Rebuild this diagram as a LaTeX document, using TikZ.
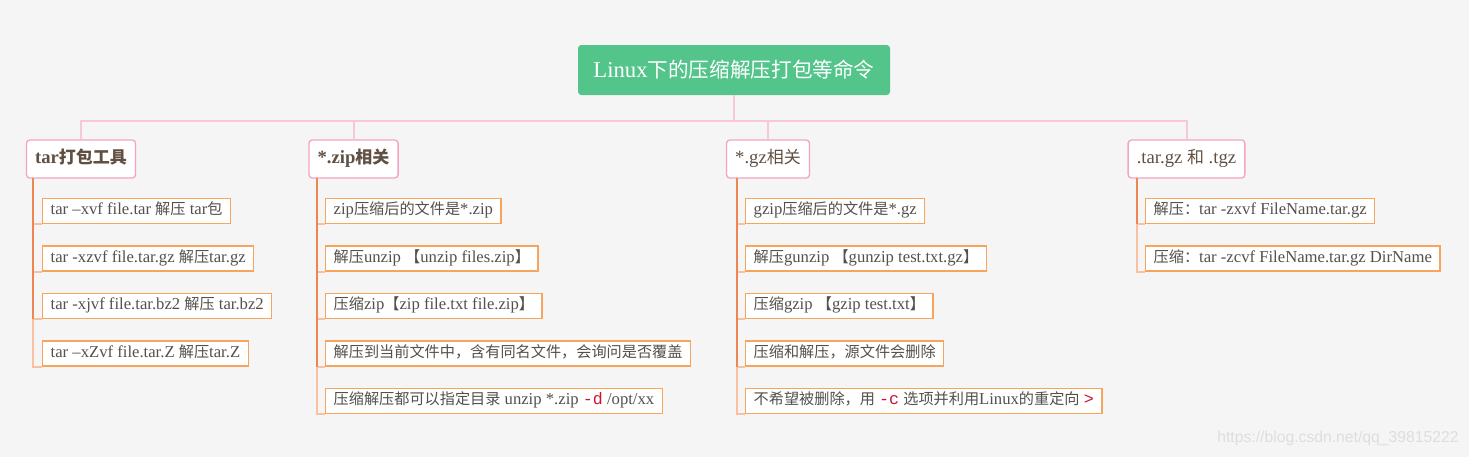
\documentclass[tikz,border=0pt]{standalone}
\usepackage{fontspec}
\setmainfont{Liberation Serif}
\setsansfont{Liberation Sans}
\setmonofont{Liberation Mono}
\newfontfamily\zhfont{Noto Sans CJK SC}[Scale = 0.91]
\newcommand{\zh}[1]{{\zhfont #1}}
\newcommand{\redcode}[1]{\textcolor{codered}{\texttt{#1}}}

\definecolor{bgcolor}{RGB}{245,245,245}
\definecolor{rootgreen}{RGB}{83,196,138}
\definecolor{pinkline}{RGB}{249,200,214}
\definecolor{pinkedge}{RGB}{244,164,192}
\definecolor{orangeline}{RGB}{238,134,84}
\definecolor{peachline}{RGB}{248,194,162}
\definecolor{leafedge}{RGB}{247,164,92}
\definecolor{topictext}{RGB}{96,80,66}
\definecolor{leaftext}{RGB}{84,80,76}
\definecolor{codered}{RGB}{204,20,50}
\definecolor{marktext}{RGB}{222,222,222}

\begin{document}
\begin{tikzpicture}[x = 0.75pt, y = -0.75pt,
		rootbox/.style = {fill = rootgreen, rounded corners = 2.5pt, minimum width = 234pt, minimum height = 37.5pt, text = white, font = \fontsize{17pt}{20pt}\selectfont},
		topicbox/.style = {draw = pinkedge, fill = white, line width = 1pt, rounded corners = 2.5pt, minimum height = 28.5pt, inner xsep = 6.5pt, text height = 10pt, text depth = 3pt, text = topictext, font = \fontsize{14pt}{16pt}\selectfont},
		topicbold/.style = {topicbox, font = \fontsize{14pt}{16pt}\selectfont\bfseries},
		leafbox/.style = {draw = leafedge, fill = white, line width = 1pt, anchor = south west, minimum height = 18.75pt, inner xsep = 6pt, inner ysep = 0pt, text height = 9pt, text depth = 3pt, text = leaftext, font = \fontsize{12.5pt}{14pt}\selectfont},
		pinklink/.style = {draw = pinkline, line width = 1.5pt},
		trunklink/.style = {draw = orangeline, line width = 1.5pt},
		leaflink/.style = {draw = peachline, line width = 1.5pt}]
	\fill[bgcolor] (0, 0) rectangle (1469, 457);

	\node (root) at (734, 70) [rootbox] {Linux\zh{下的压缩解压打包等命令}};
	\coordinate (hub) at (734, 121);

	\node (tar) at (81, 159) [topicbold] {tar\zh{打包工具}};
	\node (zip) at (353.5, 159) [topicbold] {*.zip\zh{相关}};
	\node (gz) at (768, 159) [topicbox] {*.gz\zh{相关}};
	\node (tgz) at (1186.5, 159) [topicbox] {.tar.gz \zh{和} .tgz};

	\draw[pinklink] (root.south) -- (hub);
	\draw[pinklink] (hub) -| (tar.north);
	\draw[pinklink] (hub) -| (zip.north);
	\draw[pinklink] (hub) -| (gz.north);
	\draw[pinklink] (hub) -| (tgz.north);

	\coordinate (tarT) at (33, 178);
	\coordinate (zipT) at (317, 178);
	\coordinate (gzT) at (736.5, 178);
	\coordinate (tgzT) at (1137, 178);

	\node (tar1) at (42, 224) [leafbox] {tar –xvf file.tar \zh{解压} tar\zh{包}};
	\node (tar2) at (42, 271.5) [leafbox] {tar -xzvf file.tar.gz \zh{解压}tar.gz};
	\node (tar3) at (42, 319) [leafbox] {tar -xjvf file.tar.bz2 \zh{解压} tar.bz2};
	\node (tar4) at (42, 366.5) [leafbox] {tar –xZvf file.tar.Z \zh{解压}tar.Z};

	\node (zip1) at (325, 224) [leafbox] {zip\zh{压缩后的文件是}*.zip};
	\node (zip2) at (325, 271.5) [leafbox] {\zh{解压}unzip \zh{【}unzip files.zip\zh{】}};
	\node (zip3) at (325, 319) [leafbox] {\zh{压缩}zip\zh{【}zip file.txt file.zip\zh{】}};
	\node (zip4) at (325, 366.5) [leafbox] {\zh{解压到当前文件中，含有同名文件，会询问是否覆盖}};
	\node (zip5) at (325, 414) [leafbox] {\zh{压缩解压都可以指定目录} unzip *.zip \redcode{-d} /opt/xx};

	\node (gz1) at (745, 224) [leafbox] {gzip\zh{压缩后的文件是}*.gz};
	\node (gz2) at (745, 271.5) [leafbox] {\zh{解压}gunzip \zh{【}gunzip test.txt.gz\zh{】}};
	\node (gz3) at (745, 319) [leafbox] {\zh{压缩}gzip \zh{【}gzip test.txt\zh{】}};
	\node (gz4) at (745, 366.5) [leafbox] {\zh{压缩和解压，源文件会删除}};
	\node (gz5) at (745, 414) [leafbox] {\zh{不希望被删除，用} \redcode{-c} \zh{选项并利用}Linux\zh{的重定向} \redcode{>}};

	\node (tgz1) at (1145, 224) [leafbox] {\zh{解压：}tar -zxvf FileName.tar.gz};
	\node (tgz2) at (1145, 271.5) [leafbox] {\zh{压缩：}tar -zcvf FileName.tar.gz DirName};

	\draw[leaflink] (tarT) |- (tar4.south west) (tarT |- tar1.south west) -- (tar1.south west) (tarT |- tar2.south west) -- (tar2.south west) (tarT |- tar3.south west) -- (tar3.south west);
	\draw[trunklink] (tarT) -- (tarT |- tar3.south west);
	\draw[leaflink] (zipT) |- (zip5.south west) (zipT |- zip1.south west) -- (zip1.south west) (zipT |- zip2.south west) -- (zip2.south west) (zipT |- zip3.south west) -- (zip3.south west) (zipT |- zip4.south west) -- (zip4.south west);
	\draw[trunklink] (zipT) -- (zipT |- zip4.south west);
	\draw[leaflink] (gzT) |- (gz5.south west) (gzT |- gz1.south west) -- (gz1.south west) (gzT |- gz2.south west) -- (gz2.south west) (gzT |- gz3.south west) -- (gz3.south west) (gzT |- gz4.south west) -- (gz4.south west);
	\draw[trunklink] (gzT) -- (gzT |- gz4.south west);
	\draw[leaflink] (tgzT) |- (tgz2.south west) (tgzT |- tgz1.south west) -- (tgz1.south west);
	\draw[trunklink] (tgzT) -- (tgzT |- tgz1.south west);

	\node (mark) at (1338, 438) [font = \sffamily\fontsize{11.8pt}{14pt}\selectfont, text = marktext] {https://blog.csdn.net/qq\_39815222};
\end{tikzpicture}
\end{document}
